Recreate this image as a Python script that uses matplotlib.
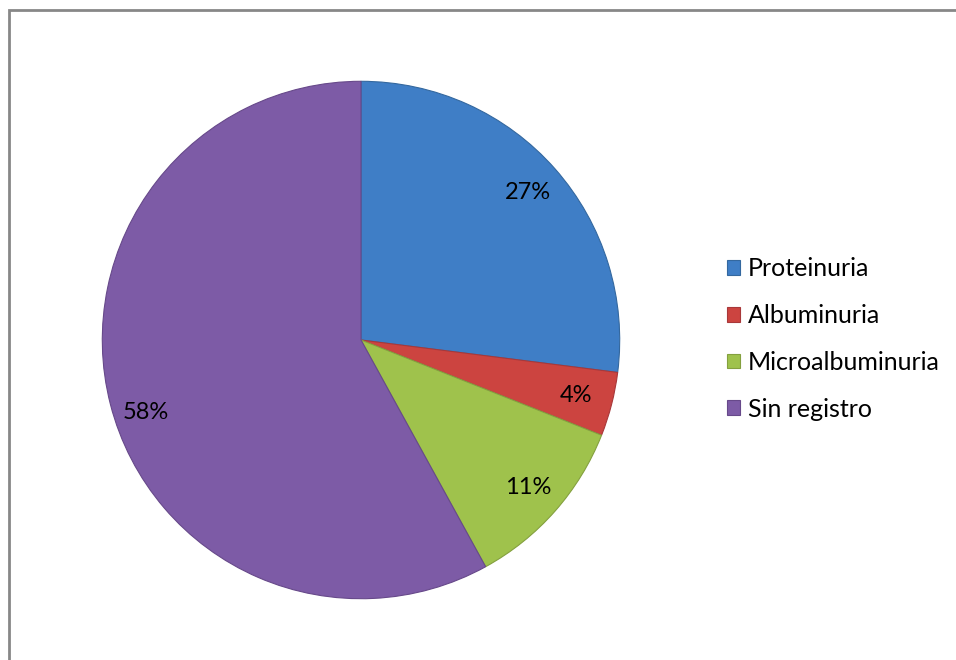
import matplotlib
matplotlib.use("Agg")
import matplotlib.pyplot as plt
from matplotlib.patches import Rectangle, Patch

plt.rcParams['font.family'] = ['Lato', 'DejaVu Sans']

categories = ["Proteinuria", "Albuminuria", "Microalbuminuria", "Sin registro"]
values = [27, 4, 11, 58]
colors = ["#3f7ec6", "#cc4440", "#9fc24c", "#7d5ba6"]
edges = ["#34689f", "#a8383a", "#84a03f", "#67498a"]

fig = plt.figure(figsize=(9.56, 6.6), dpi=100)
W, H = 956, 660

# chart border (runs off the right and bottom edges)
fig.add_artist(Rectangle((9 / W, -0.05), 1.05, 1 - 10 / H + 0.05,
                         transform=fig.transFigure, fill=False,
                         edgecolor="#878787", linewidth=2))

cx, cy, r = 361, 340, 260
ax = fig.add_axes([(cx - r) / W, (H - cy - r) / H, 2 * r / W, 2 * r / H])
wedges, texts, autotexts = ax.pie(
    values, colors=colors, startangle=90, counterclock=False,
    autopct=lambda p: f"{p:.0f}%", pctdistance=0.86,
    wedgeprops=dict(linewidth=0.8),
    textprops=dict(fontsize=17, color="black"))
for w, e in zip(wedges, edges):
    w.set_edgecolor(e)

# the large slice's label sits a little lower, nearer the left edge
x, y = autotexts[3].get_position()
autotexts[3].set_position((x, y - 0.065))

ax.set_xlim(-1.005, 1.005)
ax.set_ylim(-1.005, 1.005)
ax.set_aspect("equal")

handles = [Patch(facecolor=c, edgecolor=e, linewidth=0.8) for c, e in zip(colors, edges)]
fig.legend(handles, categories, loc="center left",
           bbox_to_anchor=(727 / W, 1 - 339 / H), frameon=False,
           fontsize=18, handlelength=0.52, handleheight=0.52,
           handletextpad=0.3, labelspacing=0.95, borderaxespad=0,
           borderpad=0)

fig.savefig("out.png", dpi=100, facecolor="white")
